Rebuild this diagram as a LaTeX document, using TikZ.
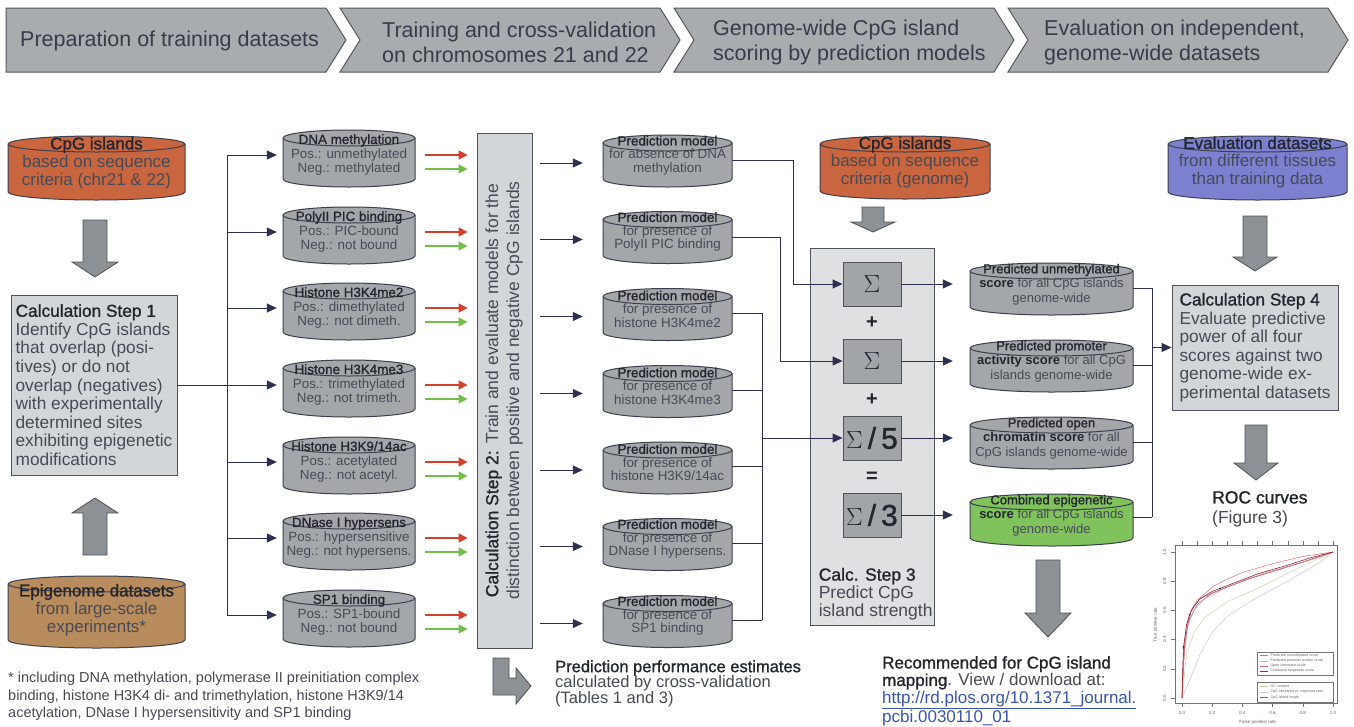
\documentclass[tikz,border=0pt]{standalone}
\usepackage{fontspec}
\setmainfont{Liberation Sans}
\newfontfamily\semib{Liberation Sans}[FakeBold=1.2]
\usepackage{graphicx}
\usetikzlibrary{arrows.meta,calc}
\definecolor{phasefill}{HTML}{A9ACAF}
\definecolor{phaseline}{HTML}{55585F}
\definecolor{phasetext}{HTML}{383B4A}
\definecolor{drumgrey}{HTML}{A4A7AA}
\definecolor{drumedge}{HTML}{3C3F4E}
\definecolor{orangedb}{HTML}{C9663F}
\definecolor{browndb}{HTML}{B88C5C}
\definecolor{bluedb}{HTML}{7C80CF}
\definecolor{greendb}{HTML}{80C25C}
\definecolor{steppale}{HTML}{D3D6D8}
\definecolor{calcpale}{HTML}{DEE0E2}
\definecolor{sumfill}{HTML}{A1A5A8}
\definecolor{boxline}{HTML}{4F525B}
\definecolor{wire}{HTML}{2E3050}
\definecolor{redline}{HTML}{D2402E}
\definecolor{greenline}{HTML}{76BE4B}
\definecolor{blockfill}{HTML}{8C9196}
\definecolor{blockline}{HTML}{4F535A}
\definecolor{bodytext}{HTML}{474A55}
\definecolor{titletext}{HTML}{23252F}
\definecolor{linkblue}{HTML}{3A55B0}
\newcommand{\dbhead}[1]{{\semib\color{titletext}#1}}
% cylinder: centre x, top y, bottom y, half width, fill
\newcommand{\drum}[5]{%
  \filldraw[drumline,fill=#5] ({#1-#4},{#3-8}) arc[start angle=180,end angle=360,x radius=#4pt,y radius=8pt]
    -- ({#1+#4},{#2+8}) arc[start angle=0,end angle=180,x radius=#4pt,y radius=8pt] -- cycle;
  \draw[drumline] ({#1-#4},{#2+8}) arc[start angle=180,end angle=360,x radius=#4pt,y radius=8pt];}

\begin{document}
\begin{tikzpicture}[x=1pt,y=-1pt,
  phase/.style={draw=phaseline,fill=phasefill,line width=1pt},
  phasetxt/.style={anchor=west,align=left,inner sep=0pt,text=phasetext,font=\fontsize{21.5}{25}\selectfont},
  drumline/.style={draw=drumedge,line width=1pt},
  dbtxt/.style={align=center,inner sep=0pt,text=bodytext,minimum width=132,font=\fontsize{13.4}{14.5}\selectfont},
  pmtxt/.style={align=center,inner sep=0pt,text=bodytext,minimum width=129,font=\fontsize{13.4}{13.5}\selectfont},
  sctxt/.style={align=center,inner sep=0pt,text=bodytext,minimum width=163,font=\fontsize{13}{14.5}\selectfont},
  bigtxt/.style={align=center,inner sep=0pt,text=bodytext,font=\fontsize{17}{18}\selectfont},
  stepbox/.style={draw=boxline,fill=steppale,line width=0.9pt,align=left,inner sep=4pt,
                  text=bodytext,font=\fontsize{17.3}{18.6}\selectfont},
  sumbox/.style={draw=boxline,fill=sumfill,line width=0.9pt,minimum width=58,minimum height=44,
                 inner sep=0pt,text=titletext},
  sign/.style={inner sep=0pt,text=titletext,font=\bfseries\fontsize{20}{20}\selectfont},
  note/.style={align=left,inner sep=0pt,anchor=north west,text=bodytext},
  ln/.style={draw=wire,line width=1pt},
  ar/.style={-{Triangle[length=10pt,width=9pt]},draw=wire,line width=1pt},
  arred/.style={-{Triangle[length=9pt,width=9pt]},draw=redline,line width=1.6pt},
  argreen/.style={-{Triangle[length=9pt,width=9pt]},draw=greenline,line width=1.6pt},
  blockar/.style={draw=blockline,fill=blockfill,line width=0.8pt},
  rocax/.style={draw=black!55,line width=0.3pt},
  roclab/.style={inner sep=0pt,text=black!60,font=\fontsize{4.5}{5}\selectfont},
  legtxt/.style={inner sep=0pt,anchor=west,text=black!60,font=\fontsize{3.6}{4}\selectfont}
]
\fill[white] (0,0) rectangle (1354,726);
\useasboundingbox (0,0) rectangle (1354,726);

% phases
\draw[phase] (6,8) -- (326,8) -- (346,40) -- (326,72) -- (6,72) -- cycle;
\draw[phase] (340,8) -- (660,8) -- (680,40) -- (660,72) -- (340,72) -- (360,40) -- cycle;
\draw[phase] (674,8) -- (994,8) -- (1014,40) -- (994,72) -- (674,72) -- (694,40) -- cycle;
\draw[phase] (1008,8) -- (1328,8) -- (1348,40) -- (1328,72) -- (1008,72) -- (1028,40) -- cycle;
\node[phasetxt] (ph1) at (20,41) {Preparation of training datasets};
\node[phasetxt] (ph2) at (382,42) {Training and cross-validation\\on chromosomes 21 and 22};
\node[phasetxt] (ph3) at (713,42) {Genome-wide CpG island\\scoring by prediction models};
\node[phasetxt] (ph4) at (1044,42) {Evaluation on independent,\\genome-wide datasets};

% source datasets
\drum{96.5}{136}{200}{88.5}{orangedb}
\drum{96.5}{576}{648}{88.5}{browndb}
\drum{905}{136}{199}{85}{orangedb}
\drum{1257.5}{136}{200}{89.5}{bluedb}
\node[bigtxt] (cpgtrain) at (96.5,163) {\dbhead{CpG islands}\\based on sequence\\criteria (chr21 \& 22)};
\node[bigtxt] (epigen) at (96.5,610) {\dbhead{Epigenome datasets}\\from large-scale\\experiments*};
\node[bigtxt] (cpggenome) at (905,162.5) {\dbhead{CpG islands}\\based on sequence\\criteria (genome)};
\node[bigtxt] (evaldata) at (1257.5,162.5) {\dbhead{Evaluation datasets}\\from different tissues\\than training data};

% training datasets
\drum{349}{130}{187}{66}{drumgrey}
\drum{349}{207}{264}{66}{drumgrey}
\drum{349}{283}{340}{66}{drumgrey}
\drum{349}{360}{417}{66}{drumgrey}
\drum{349}{437}{494}{66}{drumgrey}
\drum{349}{513}{570}{66}{drumgrey}
\drum{349}{590}{647}{66}{drumgrey}
\node[dbtxt] (dnam) at (349,155) {\dbhead{DNA methylation}\\Pos.: unmethylated\\Neg.: methylated};
\node[dbtxt] (polii) at (349,232) {\dbhead{PolyII PIC binding}\\Pos.: PIC-bound\\Neg.: not bound};
\node[dbtxt] (hkmetwo) at (349,308) {\dbhead{Histone H3K4me2}\\Pos.: dimethylated\\Neg.: not dimeth.};
\node[dbtxt] (hkmethree) at (349,385) {\dbhead{Histone H3K4me3}\\Pos.: trimethylated\\Neg.: not trimeth.};
\node[dbtxt] (hkac) at (349,462) {\dbhead{Histone H3K9/14ac}\\Pos.: acetylated\\Neg.: not acetyl.};
\node[dbtxt] (dnase) at (349,538) {\dbhead{DNase I hypersens}\\Pos.: hypersensitive\\Neg.: not hypersens.};
\node[dbtxt] (spone) at (349,615) {\dbhead{SP1 binding}\\Pos.: SP1-bound\\Neg.: not bound};

% prediction models
\drum{667.5}{135}{187}{64.5}{drumgrey}
\drum{667.5}{211.5}{263.5}{64.5}{drumgrey}
\drum{667.5}{288.5}{340.5}{64.5}{drumgrey}
\drum{667.5}{365.5}{417.5}{64.5}{drumgrey}
\drum{667.5}{442}{494}{64.5}{drumgrey}
\drum{667.5}{518.5}{570.5}{64.5}{drumgrey}
\drum{667.5}{595.5}{647.5}{64.5}{drumgrey}
\node[pmtxt] (pmdnam) at (667.5,155.5) {\dbhead{Prediction model}\\for absence of DNA\\methylation};
\node[pmtxt] (pmpolii) at (667.5,232) {\dbhead{Prediction model}\\for presence of\\PolyII PIC binding};
\node[pmtxt] (pmhkmetwo) at (667.5,309) {\dbhead{Prediction model}\\for presence of\\histone H3K4me2};
\node[pmtxt] (pmhkmethree) at (667.5,386) {\dbhead{Prediction model}\\for presence of\\histone H3K4me3};
\node[pmtxt] (pmhkac) at (667.5,462.5) {\dbhead{Prediction model}\\for presence of\\histone H3K9/14ac};
\node[pmtxt] (pmdnase) at (667.5,539) {\dbhead{Prediction model}\\for presence of\\DNase I hypersens.};
\node[pmtxt] (pmspone) at (667.5,616) {\dbhead{Prediction model}\\for presence of\\SP1 binding};

% genome-wide scores
\drum{1051.5}{263}{315}{81.5}{drumgrey}
\drum{1051.5}{340}{392}{81.5}{drumgrey}
\drum{1051.5}{417}{469}{81.5}{drumgrey}
\drum{1051.5}{494}{546}{81.5}{greendb}
\node[sctxt] (scunm) at (1051.5,284.5) {\dbhead{Predicted unmethylated}\\{\bfseries\color{titletext}score} for all CpG islands\\genome-wide};
\node[sctxt] (scprom) at (1051.5,361.5) {\dbhead{Predicted promoter}\\{\bfseries\color{titletext}activity score} for all CpG\\islands genome-wide};
\node[sctxt] (scopen) at (1051.5,438.5) {\dbhead{Predicted open}\\{\bfseries\color{titletext}chromatin score} for all\\CpG islands genome-wide};
\node[sctxt] (sccomb) at (1051.5,515.5) {\dbhead{Combined epigenetic}\\{\bfseries\color{titletext}score} for all CpG islands\\genome-wide};

% calculation steps
\node[stepbox,minimum width=166,minimum height=180] (step1) at (94,385)
  {\dbhead{Calculation Step 1}\\Identify CpG islands\\that overlap (posi-\\tives) or do not\\overlap (negatives)\\with experimentally\\determined sites\\exhibiting epigenetic\\modifications};
\node[stepbox,minimum width=55,minimum height=515,inner sep=0pt,align=center,
      font=\fontsize{17.5}{21}\selectfont] (step2) at (504.5,390.5)
  {\rotatebox{90}{\begin{tabular}{@{}c@{}}\dbhead{Calculation Step 2:} Train and evaluate models for the\\
   distinction between positive and negative CpG islands\end{tabular}}};
\node[draw=boxline,fill=calcpale,line width=0.9pt,minimum width=124,minimum height=377,inner sep=0pt]
  (step3) at (872,436.5) {};
\node[note,anchor=south west,font=\fontsize{17.5}{18}\selectfont] (step3txt) at ($(step3.south west)+(9,-5)$)
  {\dbhead{Calc. Step 3}\\Predict CpG\\island strength};
\node[stepbox,minimum width=166,minimum height=125] (step4) at (1255,347.5)
  {\dbhead{Calculation Step 4}\\Evaluate predictive\\power of all four\\scores against two\\genome-wide ex-\\perimental datasets};

% sums
\node[sumbox] (sumunm) at (872,284) {\fontsize{34}{34}\selectfont$\Sigma$};
\node[sumbox] (sumprom) at (872,361) {\fontsize{34}{34}\selectfont$\Sigma$};
\node[sumbox] (sumopen) at (872,438) {\fontsize{30}{30}\selectfont$\Sigma$\semib\,/\,5};
\node[sumbox] (sumcomb) at (872,515) {\fontsize{30}{30}\selectfont$\Sigma$\semib\,/\,3};
\node[sign] (plusa) at (872,323) {+};
\node[sign] (plusb) at (872,400) {+};
\node[sign] (equal) at (872,477) {=};

% step 1 -> training datasets
\coordinate (tk) at (227,385);
\draw[ln] (step1.east) -- (tk);
\draw[ln] (tk |- dnam.west) -- (tk |- spone.west);
\draw[ar,shorten >=6pt] (tk |- dnam.west) -- (dnam.west);
\draw[ar,shorten >=6pt] (tk |- polii.west) -- (polii.west);
\draw[ar,shorten >=6pt] (tk |- hkmetwo.west) -- (hkmetwo.west);
\draw[ar,shorten >=6pt] (tk |- hkmethree.west) -- (hkmethree.west);
\draw[ar,shorten >=6pt] (tk |- hkac.west) -- (hkac.west);
\draw[ar,shorten >=6pt] (tk |- dnase.west) -- (dnase.west);
\draw[ar,shorten >=6pt] (tk |- spone.west) -- (spone.west);

% positives and negatives -> step 2
\draw[arred] ($(dnam.east)+(10,0)$) -- ($(step2.west |- dnam.east)+(-9,0)$);
\draw[argreen] ($(dnam.east)+(10,14)$) -- ($(step2.west |- dnam.east)+(-9,14)$);
\draw[arred] ($(polii.east)+(10,0)$) -- ($(step2.west |- polii.east)+(-9,0)$);
\draw[argreen] ($(polii.east)+(10,14)$) -- ($(step2.west |- polii.east)+(-9,14)$);
\draw[arred] ($(hkmetwo.east)+(10,0)$) -- ($(step2.west |- hkmetwo.east)+(-9,0)$);
\draw[argreen] ($(hkmetwo.east)+(10,14)$) -- ($(step2.west |- hkmetwo.east)+(-9,14)$);
\draw[arred] ($(hkmethree.east)+(10,0)$) -- ($(step2.west |- hkmethree.east)+(-9,0)$);
\draw[argreen] ($(hkmethree.east)+(10,14)$) -- ($(step2.west |- hkmethree.east)+(-9,14)$);
\draw[arred] ($(hkac.east)+(10,0)$) -- ($(step2.west |- hkac.east)+(-9,0)$);
\draw[argreen] ($(hkac.east)+(10,14)$) -- ($(step2.west |- hkac.east)+(-9,14)$);
\draw[arred] ($(dnase.east)+(10,0)$) -- ($(step2.west |- dnase.east)+(-9,0)$);
\draw[argreen] ($(dnase.east)+(10,14)$) -- ($(step2.west |- dnase.east)+(-9,14)$);
\draw[arred] ($(spone.east)+(10,0)$) -- ($(step2.west |- spone.east)+(-9,0)$);
\draw[argreen] ($(spone.east)+(10,14)$) -- ($(step2.west |- spone.east)+(-9,14)$);

% step 2 -> prediction models
\draw[ar] ($(step2.east |- pmdnam.west)+(8,7.5)$) -- ($(pmdnam.west)+(-20,7.5)$);
\draw[ar] ($(step2.east |- pmpolii.west)+(8,7.5)$) -- ($(pmpolii.west)+(-20,7.5)$);
\draw[ar] ($(step2.east |- pmhkmetwo.west)+(8,7.5)$) -- ($(pmhkmetwo.west)+(-20,7.5)$);
\draw[ar] ($(step2.east |- pmhkmethree.west)+(8,7.5)$) -- ($(pmhkmethree.west)+(-20,7.5)$);
\draw[ar] ($(step2.east |- pmhkac.west)+(8,7.5)$) -- ($(pmhkac.west)+(-20,7.5)$);
\draw[ar] ($(step2.east |- pmdnase.west)+(8,7.5)$) -- ($(pmdnase.west)+(-20,7.5)$);
\draw[ar] ($(step2.east |- pmspone.west)+(8,7.5)$) -- ($(pmspone.west)+(-20,7.5)$);

% prediction models -> sums
\coordinate (jdnam) at ($(pmdnam.east)+(61,5)$);
\coordinate (jpolii) at ($(pmpolii.east)+(48,5)$);
\draw[ar] ($(pmdnam.east)+(0,5)$) -- (jdnam) |- (sumunm.west);
\draw[ar] ($(pmpolii.east)+(0,5)$) -- (jpolii) |- (sumprom.west);
\draw[ln] ($(pmhkmetwo.east)+(0,4)$) -- ++(30,0);
\draw[ln] ($(pmhkmethree.east)+(0,4)$) -- ++(30,0);
\draw[ln] ($(pmhkac.east)+(0,4)$) -- ++(30,0);
\draw[ln] ($(pmdnase.east)+(0,4)$) -- ++(30,0);
\draw[ln] ($(pmspone.east)+(0,4)$) -- ++(30,0);
\coordinate (jtop) at ($(pmhkmetwo.east)+(30,4)$);
\coordinate (jbot) at ($(pmspone.east)+(30,4)$);
\draw[ln] (jtop) -- (jbot);
\draw[ar] (jtop |- sumopen.west) -- (sumopen.west);

% sums -> scores
\draw[ar] (sumunm.east) -- ($(sumunm.east -| scunm.west)+(-17,0)$);
\draw[ar] (sumprom.east) -- ($(sumprom.east -| scprom.west)+(-17,0)$);
\draw[ar] (sumopen.east) -- ($(sumopen.east -| scopen.west)+(-17,0)$);
\draw[ar] (sumcomb.east) -- ($(sumcomb.east -| sccomb.west)+(-17,0)$);

% scores -> step 4
\draw[ln] ($(scunm.east)+(0,3.5)$) -- ++(19,0);
\draw[ln] ($(scprom.east)+(0,3.5)$) -- ++(19,0);
\draw[ln] ($(scopen.east)+(0,3.5)$) -- ++(19,0);
\draw[ln] ($(sccomb.east)+(0,1.5)$) -- ++(19,0);
\coordinate (ktop) at ($(scunm.east)+(19,3.5)$);
\coordinate (kbot) at ($(sccomb.east)+(19,1.5)$);
\draw[ln] (ktop) -- (kbot);
\draw[ar] (ktop |- step4.west) -- (step4.west);

% block arrows
\draw[blockar] (83,220) -- (107,220) -- (107,262) -- (118,262) -- (95,277) -- (72,262) -- (83,262) -- cycle;
\draw[blockar] (83,555) -- (107,555) -- (107,513) -- (118,513) -- (95,498) -- (72,513) -- (83,513) -- cycle;
\draw[blockar] (862,207) -- (884,207) -- (884,222) -- (895,222) -- (873,232) -- (851,222) -- (862,222) -- cycle;
\draw[blockar] (1243,216) -- (1267,216) -- (1267,257) -- (1277,257) -- (1255,271) -- (1233,257) -- (1243,257) -- cycle;
\draw[blockar] (1245,425) -- (1267,425) -- (1267,463) -- (1278,463) -- (1256,480) -- (1234,463) -- (1245,463) -- cycle;
\draw[blockar] (1036,560) -- (1060,560) -- (1060,613) -- (1071,613) -- (1048,637) -- (1025,613) -- (1036,613) -- cycle;
\draw[blockar] (493,658) -- (509,658) -- (509,678) -- (516,678) -- (516,668) -- (531,686) -- (516,704) -- (516,695) -- (493,695) -- cycle;

% notes
\node[note,font=\fontsize{16.5}{15.5}\selectfont] (perf) at (555,660)
  {\dbhead{Prediction performance estimates}\\calculated by cross-validation\\(Tables 1 and 3)};
\node[note,font=\fontsize{17}{17.4}\selectfont] (recom) at (882,656)
  {\dbhead{Recommended for CpG island}\\\dbhead{mapping}. View / download at:\\
   {\color{linkblue}\underline{http://rd.plos.org/10.1371\_journal.}}\\{\color{linkblue}\underline{pcbi.0030110\_01}}};
\node[note,font=\fontsize{14.5}{17.5}\selectfont] (foot) at (8,672)
  {* including DNA methylation, polymerase II preinitiation complex\\binding, histone H3K4 di- and trimethylation, histone H3K9/14\\acetylation, DNase I hypersensitivity and SP1 binding};
\node[note,font=\fontsize{17.5}{20}\selectfont] (roctitle) at (1212,491)
  {\dbhead{ROC curves}\\(Figure 3)};

% ROC plot
\begin{scope}[shift={(1182,698)},x=151pt,y=146pt]
\draw[rocax] (-0.046,-0.034) rectangle (1.026,1.048);
\draw[rocax] (0,-0.034) -- ++(0,-0.025) (0.2,-0.034) -- ++(0,-0.025) (0.4,-0.034) -- ++(0,-0.025)
  (0.6,-0.034) -- ++(0,-0.025) (0.8,-0.034) -- ++(0,-0.025) (1,-0.034) -- ++(0,-0.025);
\draw[rocax] (-0.046,0) -- ++(-0.025,0) (-0.046,0.2) -- ++(-0.025,0) (-0.046,0.4) -- ++(-0.025,0)
  (-0.046,0.6) -- ++(-0.025,0) (-0.046,0.8) -- ++(-0.025,0) (-0.046,1) -- ++(-0.025,0);
\draw[rocax] (0,1.048) -- ++(0,0.025) (0.1,1.048) -- ++(0,0.025) (0.2,1.048) -- ++(0,0.025)
  (0.3,1.048) -- ++(0,0.025) (0.4,1.048) -- ++(0,0.025) (0.5,1.048) -- ++(0,0.025)
  (0.6,1.048) -- ++(0,0.025) (0.7,1.048) -- ++(0,0.025) (0.8,1.048) -- ++(0,0.025)
  (0.9,1.048) -- ++(0,0.025) (1,1.048) -- ++(0,0.025);
\node[roclab] (fxa) at (0,-0.1) {0.0};
\node[roclab] (fxb) at (0.2,-0.1) {0.2};
\node[roclab] (fxc) at (0.4,-0.1) {0.4};
\node[roclab] (fxd) at (0.6,-0.1) {0.6};
\node[roclab] (fxe) at (0.8,-0.1) {0.8};
\node[roclab] (fxf) at (1,-0.1) {1.0};
\node[roclab,rotate=90] (fya) at (-0.115,0) {0.0};
\node[roclab,rotate=90] (fyb) at (-0.115,0.2) {0.2};
\node[roclab,rotate=90] (fyc) at (-0.115,0.4) {0.4};
\node[roclab,rotate=90] (fyd) at (-0.115,0.6) {0.6};
\node[roclab,rotate=90] (fye) at (-0.115,0.8) {0.8};
\node[roclab,rotate=90] (fyf) at (-0.115,1) {1.0};
\node[roclab] (fxlab) at (0.5,-0.165) {False positive rate};
\node[roclab,rotate=90] (fylab) at (-0.175,0.5) {True positive rate};
\draw[draw={rgb,255:red,200;green,200;blue,200},line width=0.5pt] plot coordinates {(0,0) (0.05,0.12) (0.12,0.3) (0.2,0.45) (0.3,0.56) (0.45,0.66) (0.7,0.8) (0.9,0.92) (1,1)};
\draw[draw={rgb,255:red,205;green,210;blue,165},line width=0.5pt] plot coordinates {(0,0) (0.03,0.3) (0.08,0.45) (0.15,0.55) (0.3,0.66) (0.5,0.75) (0.75,0.88) (1,1)};
\draw[draw={rgb,255:red,104;green,112;blue,144},line width=0.5pt] plot coordinates {(0,0) (0.01,0.3) (0.04,0.52) (0.1,0.64) (0.2,0.72) (0.4,0.8) (0.6,0.87) (0.8,0.93) (1,1)};
\draw[draw={rgb,255:red,232;green,160;blue,160},line width=0.5pt] plot coordinates {(0,0) (0.01,0.25) (0.04,0.5) (0.08,0.6) (0.15,0.68) (0.3,0.76) (0.5,0.84) (0.7,0.9) (0.9,0.96) (1,1)};
\draw[draw={rgb,255:red,200;green,96;blue,122},line width=0.5pt] plot coordinates {(0,0) (0.02,0.4) (0.06,0.6) (0.12,0.68) (0.25,0.74) (0.45,0.82) (0.65,0.88) (0.85,0.95) (1,1)};
\draw[draw={rgb,255:red,224;green,112;blue,112},line width=0.5pt] plot coordinates {(0,0) (0.01,0.3) (0.03,0.5) (0.06,0.6) (0.1,0.67) (0.2,0.76) (0.27,0.8) (0.4,0.86) (0.6,0.92) (0.8,0.97) (1,1)};
\draw[draw={rgb,255:red,142;green,42;blue,58},line width=0.6pt] plot coordinates {(0,0) (0.005,0.2) (0.01,0.35) (0.03,0.5) (0.05,0.57) (0.08,0.63) (0.12,0.68) (0.2,0.73) (0.25,0.75) (0.35,0.79) (0.5,0.85) (0.7,0.91) (0.85,0.96) (1,1)};
\fill[black!80] (0.01,0.35) circle[radius=1pt] (0.05,0.57) circle[radius=1pt] (0.25,0.75) circle[radius=1pt];
\draw[rocax] (0.497,0.158) rectangle (1.0,0.315);
\draw[rocax] (0.497,-0.027) rectangle (1.0,0.11);
\draw[draw={rgb,255:red,224;green,112;blue,112},line width=0.5pt] (0.515,0.29) -- (0.57,0.29);
\draw[draw={rgb,255:red,232;green,160;blue,160},line width=0.5pt] (0.515,0.255) -- (0.57,0.255);
\draw[draw={rgb,255:red,200;green,96;blue,122},line width=0.5pt] (0.515,0.22) -- (0.57,0.22);
\draw[draw={rgb,255:red,142;green,42;blue,58},line width=0.6pt] (0.515,0.185) -- (0.57,0.185);
\draw[draw={rgb,255:red,205;green,210;blue,165},line width=0.5pt] (0.515,0.08) -- (0.57,0.08);
\draw[draw={rgb,255:red,200;green,200;blue,200},line width=0.5pt] (0.515,0.042) -- (0.57,0.042);
\draw[draw={rgb,255:red,104;green,112;blue,144},line width=0.5pt] (0.515,0.004) -- (0.57,0.004);
\node[legtxt] (lga) at (0.585,0.29) {Predicted unmethylated score};
\node[legtxt] (lgb) at (0.585,0.255) {Predicted promoter activity score};
\node[legtxt] (lgc) at (0.585,0.22) {Open chromatin score};
\node[legtxt] (lgd) at (0.585,0.185) {Combined epigenetic score};
\node[legtxt] (lge) at (0.585,0.08) {GC content};
\node[legtxt] (lgf) at (0.585,0.042) {CpG observed vs. expected ratio};
\node[legtxt] (lgg) at (0.585,0.004) {CpG island length};
\end{scope}
\end{tikzpicture}
\end{document}
